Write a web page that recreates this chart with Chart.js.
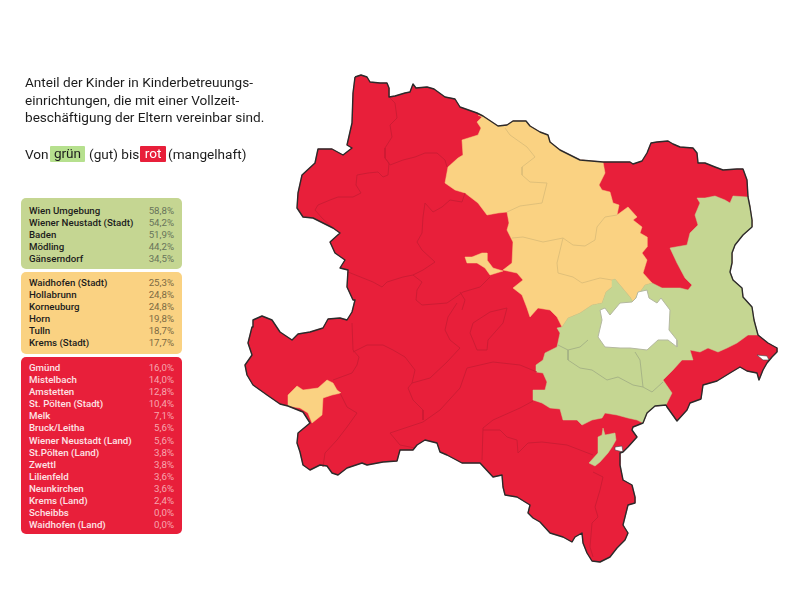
<!DOCTYPE html>
<html lang="de">
<head>
<meta charset="utf-8">
<title>Kinderbetreuung NÖ</title>
<script src="https://cdn.jsdelivr.net/npm/chart.js@4"></script>
<style>
    html, body { margin: 0; padding: 0; background: #fff; }
    body { width: 800px; height: 600px; position: relative; overflow: hidden; font-family: Roboto, sans-serif; color: #1c1c1c; }
    #map { position: absolute; left: 0; top: 0; }
    .title { position: absolute; left: 25px; top: 74px; font-size: 13.6px; line-height: 17.5px; white-space: nowrap; }
    .scale { position: absolute; left: 25px; top: 145px; font-size: 13.6px; line-height: 18px; white-space: nowrap; }
    .scale b { position: absolute; top: 1px; height: 16px; line-height: 15px; text-align: center; font-weight: 400; border-radius: 1px; }
    .scale .g { left: 25px; width: 35px; background: #b6e08e; }
    .scale .r { left: 115px; width: 26px; background: #e81f3a; color: #fff; }
    .scale span { position: absolute; top: 0; }
    .panel { position: absolute; left: 21px; width: 161px; box-sizing: border-box; padding: 7px 8px 0; border-radius: 5px; font-size: 9.7px; line-height: 12.1px; font-weight: 500; }
    .row { display: flex; justify-content: space-between; white-space: nowrap; }
    .row span:last-child { font-weight: 400; }
    #green { top: 198px; height: 71px; background: #c5d692; }
    #green span:last-child { color: #68745a; }
    #yellow { top: 272px; height: 82px; background: #fad282; padding-top: 5px; }
    #yellow span:last-child { color: #7d6a42; }
    #red { top: 357px; height: 177px; background: #e81f3a; color: #fde3e6; padding-top: 5px; }
    #red span:last-child { color: #f7a5ae; }
</style>
</head>
<body>
<canvas id="map" width="800" height="600"></canvas>
<div class="title">Anteil der Kinder in Kinderbetreuungs-<br>einrichtungen, die mit einer Vollzeit-<br>beschäftigung der Eltern vereinbar sind.</div>
<div class="scale"><span style="left:0">Von</span><b class="g">grün</b><span style="left:64px">(gut) bis</span><b class="r">rot</b><span style="left:143px">(mangelhaft)</span></div>
<div class="panel" id="green"></div>
<div class="panel" id="yellow"></div>
<div class="panel" id="red"></div>
<script>
// Legend tables
const greenNames = ['Wien Umgebung', 'Wiener Neustadt (Stadt)', 'Baden', 'Mödling', 'Gänserndorf'];
const greenValues = ['58,8%', '54,2%', '51,9%', '44,2%', '34,5%'];
const yellowNames = ['Waidhofen (Stadt)', 'Hollabrunn', 'Korneuburg', 'Horn', 'Tulln', 'Krems (Stadt)'];
const yellowValues = ['25,3%', '24,8%', '24,8%', '19,8%', '18,7%', '17,7%'];
const redNames = ['Gmünd', 'Mistelbach', 'Amstetten', 'St. Pölten (Stadt)', 'Melk', 'Bruck/Leitha', 'Wiener Neustadt (Land)', 'St.Pölten (Land)', 'Zwettl', 'Lilienfeld', 'Neunkirchen', 'Krems (Land)', 'Scheibbs', 'Waidhofen (Land)'];
const redValues = ['16,0%', '14,0%', '12,8%', '10,4%', '7,1%', '5,6%', '5,6%', '3,8%', '3,8%', '3,6%', '3,6%', '2,4%', '0,0%', '0,0%'];

// Map outlines
const stateOutline = [[355,77],[361,75],[367,77],[370,82],[380,83],[387,83],[389,88],[389,97],[395,96],[405,93],[410,92],[413,84],[416,88],[427,87],[434,89],[445,97],[455,99],[460,107],[477,113],[483,116],[492,122],[498,126],[507,125],[513,121],[526,121],[530,126],[540,132],[548,135],[550,142],[560,150],[570,155],[580,160],[603,162],[620,162],[630,162],[633,164],[642,161],[647,153],[651,143],[657,142],[668,141],[673,144],[680,147],[693,148],[697,153],[698,163],[705,163],[715,167],[723,170],[737,169],[743,169],[747,180],[748,197],[750,207],[752,220],[752,227],[743,235],[735,245],[732,253],[732,263],[730,272],[733,280],[742,288],[743,297],[752,307],[754,320],[758,335],[768,343],[777,348],[777,352],[772,357],[767,363],[763,370],[759,380],[757,373],[747,371],[740,367],[730,373],[717,381],[703,385],[701,399],[690,403],[687,410],[677,421],[667,407],[666,405],[655,406],[647,413],[643,423],[633,427],[632,430],[637,437],[628,447],[623,452],[620,453],[620,465],[623,480],[632,485],[635,497],[635,503],[628,505],[625,517],[623,525],[628,533],[625,540],[617,548],[610,557],[600,562],[592,561],[587,553],[583,543],[582,533],[575,537],[572,542],[563,537],[550,533],[540,522],[533,518],[528,513],[530,505],[517,497],[505,495],[503,487],[502,475],[493,477],[480,463],[462,463],[447,455],[440,452],[437,443],[425,440],[417,445],[413,450],[400,450],[397,461],[383,462],[367,465],[362,463],[347,468],[338,475],[332,473],[327,466],[320,465],[310,470],[303,465],[300,452],[297,443],[298,433],[310,423],[303,412],[288,406],[280,404],[267,395],[253,385],[247,375],[245,365],[252,355],[248,343],[252,327],[253,320],[262,316],[272,320],[280,332],[292,340],[298,334],[310,332],[323,328],[328,319],[340,318],[347,320],[352,312],[355,300],[353,300],[347,287],[348,270],[340,268],[345,260],[335,253],[330,242],[340,233],[333,228],[323,223],[313,218],[303,217],[297,208],[298,193],[302,175],[315,163],[318,149],[332,149],[343,155],[352,148],[347,145],[352,123],[353,93],[355,77]];
const northArea = [[478,115],[483,116],[492,122],[498,126],[507,125],[513,121],[526,121],[530,126],[540,132],[548,135],[550,142],[560,150],[570,155],[580,160],[603,162],[605,173],[599,185],[602,190],[610,192],[613,203],[619,205],[617,215],[628,207],[637,217],[633,220],[642,227],[640,233],[647,237],[647,247],[642,253],[647,260],[643,273],[652,283],[645,285],[633,302],[630,297],[615,279],[612,280],[612,287],[606,292],[602,303],[592,305],[580,313],[568,318],[562,327],[557,317],[550,310],[538,308],[530,317],[527,308],[522,295],[513,288],[523,280],[517,273],[503,270],[512,263],[513,242],[507,230],[509,223],[507,212],[498,213],[487,215],[478,203],[465,193],[455,190],[445,183],[448,167],[458,158],[463,155],[462,140],[478,135],[481,128],[477,122],[482,117],[478,115]];
const kremsStadtArea = [[465,257],[472,257],[482,253],[487,253],[487,260],[493,268],[503,271],[490,275],[485,268],[477,263],[467,263],[465,257]];
const waidhofenStadtArea = [[288,395],[297,386],[303,390],[318,388],[327,380],[333,383],[337,390],[341,393],[332,395],[323,398],[322,415],[312,423],[308,413],[300,408],[288,406],[288,395]];
const eastArea = [[697,198],[705,198],[715,196],[725,200],[730,203],[733,196],[747,197],[748,197],[750,207],[752,220],[752,227],[743,235],[735,245],[732,253],[732,263],[730,272],[733,280],[742,288],[743,297],[752,307],[754,320],[758,335],[748,335],[737,343],[727,348],[718,352],[708,348],[700,352],[690,350],[693,360],[682,360],[673,370],[663,380],[672,393],[666,405],[655,406],[647,413],[643,423],[637,420],[628,418],[617,415],[605,413],[602,418],[592,420],[582,425],[577,420],[563,420],[560,409],[550,408],[542,403],[533,400],[533,390],[545,390],[547,382],[543,373],[536,372],[536,365],[543,360],[545,353],[557,347],[560,333],[557,328],[562,327],[568,318],[580,313],[592,305],[602,303],[606,292],[612,287],[612,280],[615,279],[630,297],[633,302],[645,285],[652,283],[662,288],[670,288],[680,288],[688,290],[692,285],[685,278],[677,263],[670,248],[687,245],[690,233],[698,225],[695,215],[700,203],[697,198]];
const neustadtStadtArea = [[603,428],[605,435],[615,433],[616,440],[612,447],[608,453],[600,462],[595,466],[589,463],[598,453],[598,437],[602,435],[603,428]];
const wienArea = [[638,292],[647,290],[649,298],[657,303],[661,298],[670,310],[669,330],[677,340],[677,347],[668,340],[658,340],[647,350],[630,348],[620,348],[605,347],[598,337],[602,320],[600,310],[605,308],[610,315],[620,303],[632,302],[636,298],[638,292]];
const lakeArea = [[757,355],[767,356],[769,360],[763,360],[757,355]];
const notchArea = [[615,447],[622,446],[623,452],[615,450],[615,447]];

// District borders inside each colour
const redBorders = [
    [[389,97],[395,103],[397,118],[390,125],[392,137],[385,148],[385,158],[389,163],[388,175],[383,177],[378,172],[368,173],[357,175],[356,185],[361,193],[353,197],[338,197],[330,200],[318,205],[315,210],[322,218],[333,228]],
    [[385,158],[390,165],[403,160],[415,157],[425,153],[437,153],[445,160],[447,167]],
    [[465,193],[462,202],[450,200],[442,207],[433,212],[425,203],[423,217],[422,233],[417,242],[422,250],[435,262],[423,270],[413,275],[403,277],[387,282],[382,287],[373,282],[348,272]],
    [[413,275],[422,282],[417,290],[416,300],[422,305],[447,303],[463,292],[480,287],[490,277]],
    [[460,292],[465,300],[462,310]],
    [[352,323],[353,350],[359,357],[357,365],[352,373],[333,380]],
    [[353,352],[367,345],[383,345],[393,350],[405,357],[415,370],[412,383],[408,388],[413,400],[423,410],[423,420]],
    [[412,383],[430,378],[447,362],[460,348],[450,340],[445,330],[448,317],[457,303]],
    [[470,333],[473,323],[490,312],[507,308],[503,323],[488,340],[487,350],[477,350],[473,340],[470,333]],
    [[390,433],[423,422],[440,410],[460,388],[467,368],[493,362],[520,365],[537,372]],
    [[390,433],[400,445],[415,448]],
    [[340,393],[347,407],[357,413],[347,427],[337,440],[325,453],[323,467]],
    [[533,401],[520,408],[493,420],[483,428],[482,460]],
    [[483,430],[500,430],[507,437],[517,440],[518,453],[528,443],[542,442],[567,445],[593,455]],
    [[593,472],[603,477],[600,490],[595,507],[598,517],[592,523],[590,547],[593,557]]
];
const greenBorders = [
    [[558,345],[568,350],[568,360],[580,368],[592,370],[607,380],[618,377],[633,385],[643,387],[652,392],[663,382]],
    [[635,352],[640,360],[643,387]],
    [[568,350],[580,347],[588,340]]
];
const yellowBorders = [
    [[505,128],[510,135],[527,147],[535,157],[522,167],[522,175],[530,182],[547,183],[542,203],[520,206],[507,212]],
    [[512,238],[523,237],[543,242],[563,238],[573,245],[585,246],[595,240],[597,227],[605,217],[617,215]],
    [[563,238],[557,263],[558,273],[573,277],[582,283],[600,278],[612,280]]
];

// Build the legend panels
function fillPanel(id, names, values) {
    document.getElementById(id).innerHTML = names.map((name, i) =>
        `<div class="row"><span>${name}</span><span>${values[i]}</span></div>`
    ).join('');
}
fillPanel('green', greenNames, greenValues);
fillPanel('yellow', yellowNames, yellowValues);
fillPanel('red', redNames, redValues);

const toPoints = list => list.map(([x, y]) => ({ x, y }));

function area(list, color, border, width) {
    return {
        data: toPoints(list),
        showLine: true,
        fill: 'shape',
        backgroundColor: color,
        borderColor: border || color,
        borderWidth: width || 0.5,
        pointRadius: 0,
        tension: 0
    };
}

function outline(list, color, width) {
    return {
        data: toPoints(list),
        showLine: true,
        fill: false,
        borderColor: color,
        borderWidth: width,
        borderJoinStyle: 'round',
        pointRadius: 0,
        tension: 0
    };
}

// Listed bottom to top, the library paints the first dataset last so it gets reversed
const layers = [
    area(stateOutline, '#e81f3a'),
    area(northArea, '#fad282'),
    area(kremsStadtArea, '#fad282'),
    area(waidhofenStadtArea, '#fad282'),
    area(eastArea, '#c5d692'),
    area(neustadtStadtArea, '#c5d692'),
    ...redBorders.map(line => outline(line, '#c91c33', 0.9)),
    ...greenBorders.map(line => outline(line, '#a3b085', 0.9)),
    ...yellowBorders.map(line => outline(line, '#dcbd78', 0.9)),
    area(wienArea, '#ffffff', '#b4b8a0', 1),
    area(lakeArea, '#ffffff', '#444444', 0.6),
    area(notchArea, '#ffffff', '#444444', 0.6),
    outline(stateOutline, '#2b2b2b', 1.4)
];

new Chart(document.getElementById('map').getContext('2d'), {
    type: 'scatter',
    data: { datasets: layers.reverse() },
    options: {
        responsive: false,
        animation: false,
        layout: { padding: 0 },
        plugins: { legend: { display: false }, tooltip: { enabled: false } },
        scales: {
            x: { type: 'linear', min: 0, max: 800, display: false },
            y: { type: 'linear', min: 0, max: 600, reverse: true, display: false }
        }
    }
});
</script>
</body>
</html>
